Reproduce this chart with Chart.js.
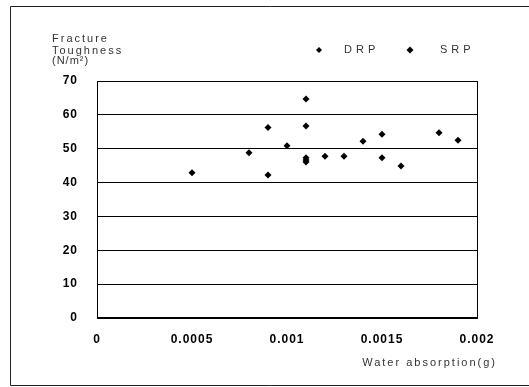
<!DOCTYPE html>
<html>
<head>
<meta charset="utf-8">
<script src="https://cdn.jsdelivr.net/npm/chart.js@4"></script>
<style>
  html, body { margin: 0; padding: 0; background: #fff; }
  #wrap { width: 529px; height: 387px; }
</style>
</head>
<body>
<div id="wrap"><canvas id="chart" width="529" height="387"></canvas></div>
<script>
// datos
const drpX = [0.0005, 0.0008, 0.0009, 0.001, 0.0011, 0.0012, 0.0013, 0.0015, 0.0016];
const drpY = [42.9, 48.8, 42.2, 50.9, 47.3, 47.8, 47.8, 47.3, 44.9];
const srpX = [0.0009, 0.0011, 0.0011, 0.0011, 0.0011, 0.0014, 0.0015, 0.0018, 0.0019];
const srpY = [56.3, 64.7, 56.7, 46.7, 46.1, 52.2, 54.3, 54.7, 52.5];

const xTicks = [0, 0.0005, 0.001, 0.0015, 0.002];
const yTicks = [0, 10, 20, 30, 40, 50, 60, 70];

const seriesNames = ['DRP', 'SRP'];
const yTitle = ['Fracture', 'Toughness', '(N/m\u00B2)'];
const xTitle = 'Water absorption(g)';

function toPoints(xs, ys) {
    return xs.map((x, i) => ({ x: x, y: ys[i] }));
}

function diamond(ctx, x, y, r) {
    ctx.beginPath();
    ctx.moveTo(x, y - r);
    ctx.lineTo(x + r, y);
    ctx.lineTo(x, y + r);
    ctx.lineTo(x - r, y);
    ctx.closePath();
    ctx.fill();
}

// marco, leyenda y titulos
const decor = {
    id: 'decor',
    beforeDraw(chart) {
        chart.ctx.letterSpacing = '1px';
    },
    beforeDatasetsDraw(chart) {
        const ctx = chart.ctx;
        const a = chart.chartArea;
        ctx.save();
        // marco exterior
        ctx.strokeStyle = '#222';
        ctx.lineWidth = 1;
        ctx.beginPath();
        ctx.moveTo(600, 6.5);
        ctx.lineTo(10.5, 6.5);
        ctx.lineTo(10.5, 385.5);
        ctx.lineTo(600, 385.5);
        ctx.stroke();
        // caja del area
        ctx.strokeStyle = '#000';
        ctx.strokeRect(Math.round(a.left) + 0.5, Math.round(a.top) + 0.5,
            Math.round(a.right - a.left), Math.round(a.bottom - a.top));
        ctx.lineWidth = 2;
        ctx.beginPath();
        ctx.moveTo(a.left, Math.round(a.bottom));
        ctx.lineTo(a.right, Math.round(a.bottom));
        ctx.stroke();

        // titulo eje y
        ctx.fillStyle = '#333';
        ctx.font = '11px "Liberation Sans", Arial, sans-serif';
        ctx.letterSpacing = '2px';
        ctx.textAlign = 'left';
        ctx.textBaseline = 'middle';
        ctx.fillText(yTitle[0], 52, 39);
        ctx.fillText(yTitle[1], 52, 51);
        ctx.letterSpacing = '1px';
        ctx.fillText(yTitle[2], 52, 61);

        // titulo eje x
        ctx.letterSpacing = '2px';
        ctx.textAlign = 'right';
        ctx.fillText(xTitle, 497, 363);

        // leyenda
        ctx.textAlign = 'left';
        ctx.letterSpacing = '4px';
        ctx.fillStyle = '#000';
        diamond(ctx, 319, 50, 3);
        diamond(ctx, 410, 50, 3.5);
        ctx.fillStyle = '#333';
        ctx.fillText(seriesNames[0], 344, 50);
        ctx.fillText(seriesNames[1], 440, 50);
        ctx.restore();
    }
};

const config = {
    type: 'scatter',
    data: {
        datasets: [
            {
                label: seriesNames[0],
                data: toPoints(drpX, drpY),
                pointStyle: 'rectRot',
                pointRadius: 3.5,
                backgroundColor: '#000',
                borderColor: '#000',
                borderWidth: 0
            },
            {
                label: seriesNames[1],
                data: toPoints(srpX, srpY),
                pointStyle: 'rectRot',
                pointRadius: 3.5,
                backgroundColor: '#000',
                borderColor: '#000',
                borderWidth: 0
            }
        ]
    },
    options: {
        responsive: false,
        animation: false,
        events: [],
        layout: { padding: { left: 0, top: 81, right: 52, bottom: 0 } },
        plugins: {
            legend: { display: false },
            tooltip: { enabled: false }
        },
        scales: {
            x: {
                type: 'linear',
                min: xTicks[0],
                max: xTicks[xTicks.length - 1],
                afterFit: (scale) => { scale.height = 69; },
                afterBuildTicks: (scale) => { scale.ticks = xTicks.map(v => ({ value: v })); },
                grid: { display: false, drawTicks: false },
                border: { display: false },
                ticks: {
                    padding: 14,
                    color: '#000',
                    font: { family: '"Liberation Sans", Arial, sans-serif', size: 12, weight: 'bold' },
                    maxRotation: 0,
                    callback: (v) => String(Number(v.toFixed(4)))
                }
            },
            y: {
                type: 'linear',
                min: yTicks[0],
                max: yTicks[yTicks.length - 1],
                afterFit: (scale) => { scale.width = 97; },
                afterBuildTicks: (scale) => { scale.ticks = yTicks.map(v => ({ value: v })); },
                grid: { color: '#000', lineWidth: 1, drawTicks: false },
                border: { display: false },
                ticks: {
                    padding: 19,
                    color: '#000',
                    font: { family: '"Liberation Sans", Arial, sans-serif', size: 12, weight: 'bold' }
                }
            }
        }
    },
    plugins: [decor]
};

const ctx = document.getElementById('chart').getContext('2d');
const scatterChart = new Chart(ctx, config);
</script>
</body>
</html>
